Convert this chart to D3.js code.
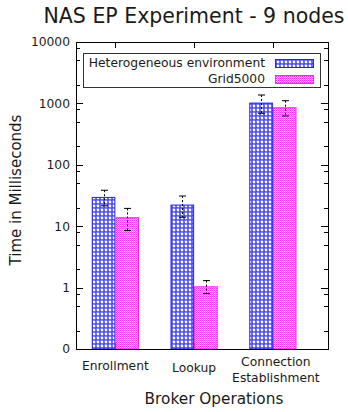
<!DOCTYPE html>
<html>
<head>
<meta charset="utf-8">
<script src="https://cdn.jsdelivr.net/npm/d3@7"></script>
<style>
  body { margin: 0; background: #fff; }
  text { font-family: "DejaVu Sans", sans-serif; fill: #1a1a1a; }
</style>
</head>
<body>
<script>
var categories = ["Enrollment", "Lookup", "Connection|Establishment"];
var seriesNames = ["Heterogeneous environment", "Grid5000"];
var hetero = [30, 22.5, 1030];
var heteroErr = [8.5, 8.5, 340];
var grid = [14, 1.05, 865];
var gridErr = [5.5, 0.25, 242];
var yMajor = [0.1, 1, 10, 100, 1000, 10000];
var yMajorLabels = ["0", "1", "10", "100", "1000", "10000"];
var yMinor = [0.2, 0.5, 0.8, 2, 5, 8, 20, 50, 80, 200, 500, 800, 2000, 5000, 8000];

var W = 348, H = 412;
var pLeft = 76, pRight = 328, pTop = 42, pBottom = 349;

var svg = d3.select("body").append("svg")
    .attr("width", W)
    .attr("height", H);

var defs = svg.append("defs");

// blue crosshatch, reads as white dots on blue
var pb = defs.append("pattern")
    .attr("id", "patBlue")
    .attr("patternUnits", "userSpaceOnUse")
    .attr("width", 4).attr("height", 4);
pb.append("rect").attr("width", 4).attr("height", 4).attr("fill", "#4040ff");
pb.append("circle").attr("cx", 2).attr("cy", 2).attr("r", 1.4).attr("fill", "#fff");
pb.append("circle").attr("cx", 0).attr("cy", 0).attr("r", 0.5).attr("fill", "#dde");
pb.append("circle").attr("cx", 4).attr("cy", 4).attr("r", 0.5).attr("fill", "#dde");

// fine magenta checker
var pp = defs.append("pattern")
    .attr("id", "patPink")
    .attr("patternUnits", "userSpaceOnUse")
    .attr("width", 2).attr("height", 2);
pp.append("rect").attr("width", 2).attr("height", 2).attr("fill", "#ffb0ff");
pp.append("rect").attr("width", 1).attr("height", 1).attr("fill", "#ff33ff");
pp.append("rect").attr("x", 1).attr("y", 1).attr("width", 1).attr("height", 1).attr("fill", "#ff55ff");

var fills = ["url(#patBlue)", "url(#patPink)"];
var strokes = ["#2020ff", "#ff20ff"];

var x = d3.scaleLinear().domain([-0.5, 2.7]).range([pLeft, pRight]);
var y = d3.scaleLog().domain([0.1, 10000]).range([pBottom, pTop]);

// title
svg.append("text")
    .attr("x", 194).attr("y", 23)
    .attr("text-anchor", "middle")
    .style("font-size", "20.5px")
    .text("NAS EP Experiment - 9 nodes");

// y axis left + right mirror
var yAxisL = svg.append("g")
    .attr("transform", "translate(" + pLeft + ",0)")
    .call(d3.axisLeft(y).tickValues(yMajor).tickSize(0).tickPadding(6)
        .tickFormat(function (d, i) { return yMajorLabels[i]; }));
yAxisL.select(".domain").remove();
yAxisL.selectAll("text").style("font-size", "12.3px").attr("fill", "#1a1a1a");

function drawTicks(vals, len) {
    svg.append("g").selectAll("line").data(vals).enter().append("line")
        .attr("x1", pLeft).attr("x2", pLeft + len)
        .attr("y1", function (d) { return Math.round(y(d)) + 0.5; })
        .attr("y2", function (d) { return Math.round(y(d)) + 0.5; })
        .attr("stroke", "#000");
    svg.append("g").selectAll("line").data(vals).enter().append("line")
        .attr("x1", pRight).attr("x2", pRight - len)
        .attr("y1", function (d) { return Math.round(y(d)) + 0.5; })
        .attr("y2", function (d) { return Math.round(y(d)) + 0.5; })
        .attr("stroke", "#000");
}
drawTicks(yMajor, 7);
drawTicks(yMinor, 4);

// x ticks top and bottom
svg.append("g").selectAll("line").data(categories).enter().append("line")
    .attr("x1", function (d, i) { return Math.round(x(i)) + 0.5; })
    .attr("x2", function (d, i) { return Math.round(x(i)) + 0.5; })
    .attr("y1", pTop).attr("y2", pTop + 6)
    .attr("stroke", "#000");
svg.append("g").selectAll("line").data(categories).enter().append("line")
    .attr("x1", function (d, i) { return Math.round(x(i)) + 0.5; })
    .attr("x2", function (d, i) { return Math.round(x(i)) + 0.5; })
    .attr("y1", pBottom).attr("y2", pBottom - 6)
    .attr("stroke", "#000");

// bars
var series = [
    {vals: hetero, err: heteroErr, off: -0.3},
    {vals: grid, err: gridErr, off: 0}
];
series.forEach(function (s, k) {
    svg.append("g").selectAll("rect").data(s.vals).enter().append("rect")
        .attr("x", function (d, i) { return x(i + s.off) + 0.5; })
        .attr("width", function () { return x(0.3) - x(0) - 1; })
        .attr("y", function (d) { return y(d) + 0.5; })
        .attr("height", function (d) { return pBottom - y(d) - 0.5; })
        .attr("fill", fills[k])
        .attr("stroke", strokes[k])
        .attr("stroke-width", 1);
});

// error bars
series.forEach(function (s) {
    var g = svg.append("g");
    s.vals.forEach(function (v, i) {
        var cx = Math.round(x(i + s.off + 0.15)) + 0.5;
        var y1 = y(v + s.err[i]), y2 = y(v - s.err[i]);
        g.append("line").attr("x1", cx).attr("x2", cx).attr("y1", y1).attr("y2", y2)
            .attr("stroke", "#000").attr("stroke-dasharray", "2,2");
        [y1, y2].forEach(function (yy) {
            g.append("line").attr("x1", cx - 3.5).attr("x2", cx + 3.5)
                .attr("y1", yy).attr("y2", yy).attr("stroke", "#000");
        });
    });
});

// plot border
svg.append("rect")
    .attr("x", pLeft + 0.5).attr("y", pTop + 0.5)
    .attr("width", pRight - pLeft).attr("height", pBottom - pTop)
    .attr("fill", "none").attr("stroke", "#000");

// x category labels
var xl = svg.append("g");
categories.forEach(function (c, i) {
    var lines = c.split("|");
    var t = xl.append("text")
        .attr("text-anchor", "middle")
        .style("font-size", "12.3px");
    if (lines.length === 1) {
        t.attr("x", x(i)).attr("y", i === 1 ? 372 : 370).text(c);
    } else {
        lines.forEach(function (ln, j) {
            t.append("tspan").attr("x", x(i) + 3).attr("y", 366 + j * 16).text(ln);
        });
    }
});

// axis titles
svg.append("text")
    .attr("x", 214).attr("y", 404)
    .attr("text-anchor", "middle")
    .style("font-size", "15.3px")
    .text("Broker Operations");
svg.append("text")
    .attr("transform", "translate(21,190) rotate(-90)")
    .attr("text-anchor", "middle")
    .style("font-size", "15px")
    .text("Time in Milliseconds");

// legend
var lg = svg.append("g");
lg.append("rect")
    .attr("x", 83.5).attr("y", 53.5)
    .attr("width", 237).attr("height", 34)
    .attr("fill", "#fff").attr("stroke", "#333");
seriesNames.forEach(function (n, k) {
    var yy = 59 + k * 16;
    lg.append("text")
        .attr("x", 265).attr("y", yy + 8)
        .attr("text-anchor", "end")
        .style("font-size", "12.3px")
        .text(n);
    lg.append("rect")
        .attr("x", 275.5).attr("y", yy + 0.5)
        .attr("width", 38).attr("height", 8)
        .attr("fill", fills[k]).attr("stroke", strokes[k]);
});
</script>
</body>
</html>
